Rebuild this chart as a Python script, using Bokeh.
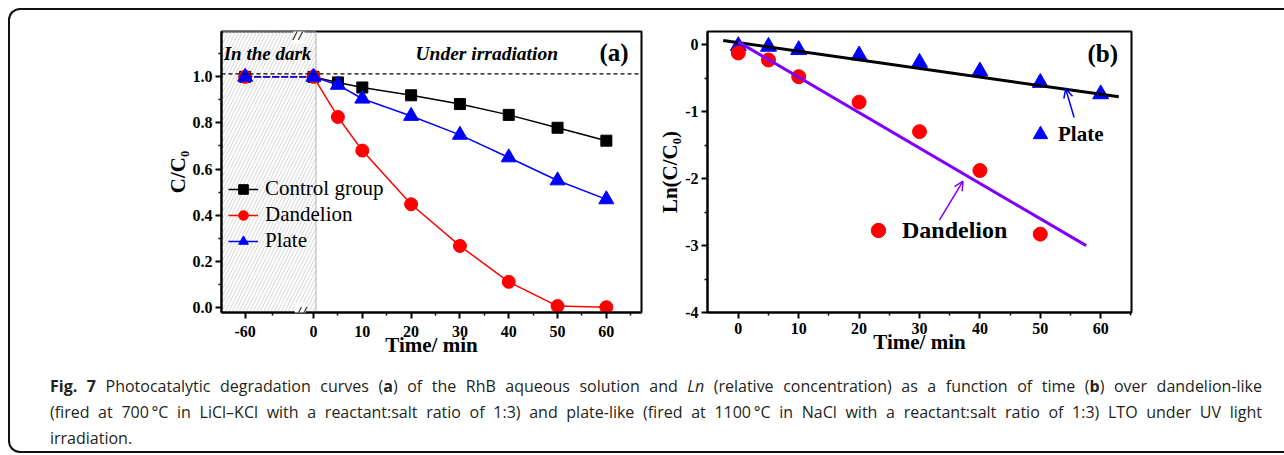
import numpy as np
from bokeh.plotting import figure
from bokeh.models import (Range1d, FixedTicker, Span, Label, Legend, LegendItem,
                          Arrow, OpenHead, Div, PrintfTickFormatter)
from bokeh.layouts import column, row
from bokeh.embed import file_html
from bokeh.resources import INLINE

# ---------------- data: panel (a) ----------------
time_a = [-60, 0, 5, 10, 20, 30, 40, 50, 60]
control_group = [1.0, 1.0, 0.976, 0.954, 0.92, 0.882, 0.835, 0.779, 0.723]
dandelion_a = [1.0, 1.0, 0.826, 0.68, 0.447, 0.266, 0.11, 0.005, 0.0]
plate_a = [1.0, 1.0, 0.965, 0.905, 0.83, 0.748, 0.65, 0.55, 0.468]
x_ticks_a = [-60, 0, 10, 20, 30, 40, 50, 60]
y_ticks_a = [0.0, 0.2, 0.4, 0.6, 0.8, 1.0]
initial_level = 1.013

# ---------------- data: panel (b) ----------------
time_b_plate = [0, 5, 10, 20, 30, 40, 50, 60]
ln_plate = [-0.02, -0.03, -0.08, -0.16, -0.27, -0.40, -0.57, -0.74]
time_b_dand = [0, 5, 10, 20, 30, 40, 50]
ln_dandelion = [-0.125, -0.23, -0.48, -0.86, -1.30, -1.88, -2.83]
plate_fit_slope, plate_fit_intercept, plate_fit_x = -0.01282, 0.028, [-2.5, 63.0]
dand_fit_slope, dand_fit_intercept, dand_fit_x = -0.0528, 0.04, [0.0, 57.6]
x_ticks_b = [0, 10, 20, 30, 40, 50, 60]
y_ticks_b = [0, -1, -2, -3, -4]

caption_lines = [
    '<b>Fig. 7</b> Photocatalytic degradation curves (<b>a</b>) of the RhB aqueous solution and '
    '<i>Ln</i> (relative concentration) as a function of time (<b>b</b>) over dandelion-like',
    '(fired at 700\u2009\u00b0C in LiCl\u2013KCl with a reactant:salt ratio of 1:3) and plate-like '
    '(fired at 1100\u2009\u00b0C in NaCl with a reactant:salt ratio of 1:3) LTO under UV light',
    'irradiation.',
]

FONT = "Liberation Serif"
BLACK, RED, BLUE, PURPLE = "#000000", "#ff0000", "#0000ff", "#8000ff"

# broken axis: the dark period (-60..0 min) is compressed
DARK_SPAN = 14.0
def axis_pos(t):
    return t if t >= 0 else t * DARK_SPAN / 60.0


def style_axes(p, x_standoff):
    p.xgrid.visible = False
    p.ygrid.visible = False
    p.outline_line_color = "black"
    p.outline_line_width = 2
    for ax in (p.xaxis[0], p.yaxis[0]):
        ax.axis_line_width = 2
        ax.axis_line_color = "black"
        ax.major_tick_line_width = 2
        ax.minor_tick_line_width = 1.5
        ax.major_tick_in = 0
        ax.major_tick_out = 6
        ax.minor_tick_in = 0
        ax.minor_tick_out = 3
        ax.major_label_text_font = FONT
        ax.major_label_text_font_style = "bold"
        ax.major_label_text_font_size = "16px"
        ax.major_label_text_color = "black"
        ax.major_label_standoff = 3
        ax.axis_label_text_font = FONT
        ax.axis_label_text_font_style = "bold"
        ax.axis_label_text_font_size = "21px"
        ax.axis_label_text_color = "black"
        ax.axis_label_standoff = 0
    p.xaxis[0].major_label_standoff = x_standoff
    p.xaxis[0].axis_label_standoff = -7


# ================= panel (a) =================
pa = figure(width=655, height=365, x_range=Range1d(-18.85, 67.2), y_range=Range1d(-0.023, 1.197),
            output_backend="svg", toolbar_location=None,
            min_border_left=221, min_border_right=14, min_border_top=31, min_border_bottom=51,
            background_fill_color="white", border_fill_color="white")
style_axes(pa, 7)
pa.xaxis.axis_label = "Time/ min"
pa.yaxis.axis_label = "C/C\u2080"
pa.xaxis.ticker = FixedTicker(ticks=[axis_pos(t) for t in x_ticks_a],
                              minor_ticks=[-8.5, 5, 15, 25, 35, 45, 55, 65])
pa.xaxis.major_label_overrides = {axis_pos(t): str(t) for t in x_ticks_a}
pa.yaxis.ticker = FixedTicker(ticks=y_ticks_a, minor_ticks=[0.1, 0.3, 0.5, 0.7, 0.9, 1.1])
pa.yaxis.formatter = PrintfTickFormatter(format="%.1f")

# hatched "dark" region
pa.quad(left=[-18.85], right=[0.5], bottom=[-0.023], top=[1.197], fill_color=None,
        hatch_pattern="/", hatch_color="#cccccc", hatch_scale=7, hatch_weight=0.8,
        line_color="#b0b0b0", line_width=1, level="underlay")
pa.add_layout(Span(location=initial_level, dimension="width", line_color="black",
                   line_dash="4 3", line_width=1.2))

pos_a = [axis_pos(t) for t in time_a]
series = [("Control group", control_group, BLACK, "square", 11),
          ("Dandelion", dandelion_a, RED, "circle", 13),
          ("Plate", plate_a, BLUE, "triangle", 15)]
legend_items = []
for name, vals, col, mk, sz in series:
    pa.line(pos_a[:2], vals[:2], line_color=col, line_width=1.5, line_dash="7 2")
    lr = pa.line(pos_a[1:], vals[1:], line_color=col, line_width=1.5)
    sr = pa.scatter(pos_a, vals, marker=mk, size=sz, fill_color=col, line_color=col)
    legend_items.append(LegendItem(label=name, renderers=[lr, sr]))

leg_a = Legend(items=legend_items, location=(7, 59), label_text_font=FONT,
               label_text_font_size="21px", label_text_color="black",
               glyph_width=30, glyph_height=24, label_height=24, label_standoff=7,
               spacing=1, padding=0, margin=0, border_line_color=None,
               background_fill_alpha=0)
pa.add_layout(leg_a)

txt = dict(text_font=FONT, text_color="black", text_baseline="middle", text_align="left")
pa.add_layout(Label(x=-18.4, y=1.103, text="In the dark", text_font_style="bold italic",
                    text_font_size="19px", **txt))
pa.add_layout(Label(x=20.9, y=1.103, text="Under irradiation", text_font_style="bold italic",
                    text_font_size="19.5px", **txt))
pa.add_layout(Label(x=58.6, y=1.106, text="(a)", text_font_style="bold",
                    text_font_size="25px", **txt))
# axis break marks
pa.add_layout(Label(x=-3.0, y=280, y_units="screen", text="//", text_font=FONT,
                    text_font_style="italic", text_font_size="20px",
                    text_align="center", text_baseline="middle", text_color="black",
                    background_fill_color="white"))
pa.add_layout(Label(x=-2.7, y=-1, y_units="screen", text="//", text_font=FONT,
                    text_font_style="italic", text_font_size="20px",
                    text_align="center", text_baseline="middle", text_color="black",
                    background_fill_color="white"))

# ================= panel (b) =================
pb = figure(width=486, height=365, x_range=Range1d(-5.1, 65.1), y_range=Range1d(-4.0, 0.195),
            output_backend="svg", toolbar_location=None,
            min_border_left=50, min_border_right=10, min_border_top=31, min_border_bottom=53,
            background_fill_color="white", border_fill_color="white")
style_axes(pb, 4)
pb.xaxis.axis_label = "Time/ min"
pb.yaxis.axis_label = "Ln(C/C\u2080)"
pb.xaxis.ticker = FixedTicker(ticks=x_ticks_b, minor_ticks=[5, 15, 25, 35, 45, 55, 65])
pb.yaxis.ticker = FixedTicker(ticks=y_ticks_b, minor_ticks=[-0.5, -1.5, -2.5, -3.5])
pb.yaxis.major_label_overrides = {v: str(v) for v in y_ticks_b}

s_plate = pb.scatter(time_b_plate, ln_plate, marker="triangle", size=16,
                     fill_color=BLUE, line_color=BLUE)
s_dand = pb.scatter(time_b_dand, ln_dandelion, marker="circle", size=14,
                    fill_color=RED, line_color=RED)
pf = np.array(plate_fit_x)
pb.line(pf, plate_fit_intercept + plate_fit_slope * pf, line_color=BLACK, line_width=3)
df = np.array(dand_fit_x)
pb.line(df, dand_fit_intercept + dand_fit_slope * df, line_color=PURPLE, line_width=3)

leg_common = dict(label_text_font=FONT, label_text_font_style="bold", label_text_color="black",
                  glyph_width=36, glyph_height=36, label_height=36, padding=0, margin=0,
                  border_line_color=None, background_fill_alpha=0)
pb.add_layout(Legend(items=[LegendItem(label="Plate", renderers=[s_plate])], location=(315, 160),
                     label_text_font_size="21px", label_standoff=-3, **leg_common))
pb.add_layout(Legend(items=[LegendItem(label="Dandelion", renderers=[s_dand])], location=(153, 64),
                     label_text_font_size="24px", label_standoff=6, **leg_common))

pb.add_layout(Arrow(end=OpenHead(size=9, line_color=BLUE, line_width=1.5),
                    x_start=55.6, y_start=-1.09, x_end=54.2, y_end=-0.66,
                    line_color=BLUE, line_width=1.5))
pb.add_layout(Arrow(end=OpenHead(size=9, line_color=PURPLE, line_width=1.5),
                    x_start=33.3, y_start=-2.62, x_end=37.2, y_end=-2.04,
                    line_color=PURPLE, line_width=1.5))
pb.add_layout(Label(x=57.8, y=-0.135, text="(b)", text_font_style="bold",
                    text_font_size="25px", **txt))

# ================= caption (with the figure's outer frame) =================
frame_html = ('<div style="position:fixed;left:8px;top:8px;width:1300px;height:445px;'
              'box-sizing:border-box;border:2.5px solid #111;border-right:none;'
              'border-radius:12px 0 0 12px;pointer-events:none;"></div>')
line_style = ("width:1212px;height:26px;line-height:26px;text-align:justify;"
              "text-align-last:justify;")
html = frame_html + ('<div style="padding-top:8px;margin-left:50px;font-family:\'Open Sans\';'
                     'font-size:16px;color:#231f20;">')
for i, ln in enumerate(caption_lines):
    st = line_style if i < len(caption_lines) - 1 else \
        "width:1212px;height:26px;line-height:26px;text-align:left;"
    html += f'<div style="{st}">{ln}</div>'
html += '</div>'
cap = Div(text=html, width=1276, height=86, margin=0)

layout = column(row(pa, pb), cap)

open("out.html", "w").write(file_html(layout, INLINE))
